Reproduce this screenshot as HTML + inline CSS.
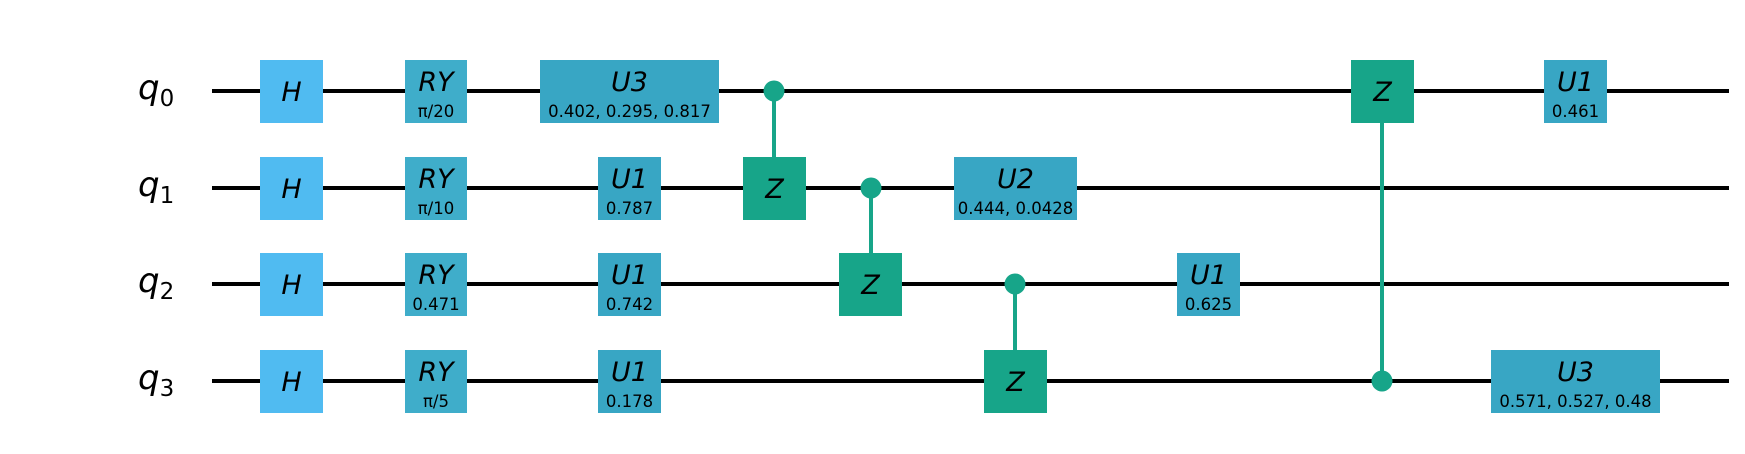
<!DOCTYPE html>
<html><head><meta charset="utf-8"><style>
html,body{margin:0;padding:0;background:#fff;}
svg{display:block;}
text{font-family:"DejaVu Sans","Liberation Sans",sans-serif;fill:#000;}
.g{font-style:italic;font-size:27px;}
.p{font-size:16.5px;}
</style></head><body>
<svg width="1745" height="454" viewBox="0 0 1745 454" xmlns="http://www.w3.org/2000/svg">
<g stroke="#000" stroke-width="4">
<line x1="212" y1="91" x2="1729" y2="91"/>
<line x1="212" y1="188" x2="1729" y2="188"/>
<line x1="212" y1="284" x2="1729" y2="284"/>
<line x1="212" y1="381" x2="1729" y2="381"/>
</g>
<g font-style="italic" font-size="34">
<text x="138" y="99">q<tspan font-size="23" font-style="normal" dy="7">0</tspan></text>
<text x="138" y="196">q<tspan font-size="23" font-style="normal" dy="7">1</tspan></text>
<text x="138" y="292">q<tspan font-size="23" font-style="normal" dy="7">2</tspan></text>
<text x="138" y="389">q<tspan font-size="23" font-style="normal" dy="7">3</tspan></text>
</g>
<g stroke="#17a589" stroke-width="4">
<line x1="774" y1="91" x2="774" y2="157"/>
<line x1="871" y1="188" x2="871" y2="253"/>
<line x1="1015" y1="284" x2="1015" y2="350"/>
<line x1="1382" y1="122" x2="1382" y2="381"/>
</g>
<g fill="#17a589">
<circle cx="774" cy="91" r="10.5"/>
<circle cx="871" cy="188" r="10.5"/>
<circle cx="1015" cy="284" r="10.5"/>
<circle cx="1382" cy="381" r="10.5"/>
</g>
<g fill="#50bbf1">
<rect x="260" y="60" width="63" height="63"/>
<rect x="260" y="157" width="63" height="63"/>
<rect x="260" y="253" width="63" height="63"/>
<rect x="260" y="350" width="63" height="63"/>
</g>
<g class="g" text-anchor="middle">
<text x="291.5" y="101">H</text><text x="291.5" y="198">H</text><text x="291.5" y="294">H</text><text x="291.5" y="391">H</text>
</g>
<g fill="#3fadca">
<rect x="405" y="60" width="62" height="63"/>
<rect x="405" y="157" width="62" height="63"/>
<rect x="405" y="253" width="62" height="63"/>
<rect x="405" y="350" width="62" height="63"/>
</g>
<g fill="#38a6c4">
<rect x="540" y="60" width="179" height="63"/>
<rect x="598" y="157" width="63" height="63"/>
<rect x="598" y="253" width="63" height="63"/>
<rect x="598" y="350" width="63" height="63"/>
<rect x="954" y="157" width="123" height="63"/>
<rect x="1177" y="253" width="63" height="63"/>
<rect x="1544" y="60" width="63" height="63"/>
<rect x="1491" y="350" width="169" height="63"/>
</g>
<g fill="#17a589">
<rect x="743" y="157" width="63" height="63"/>
<rect x="839" y="253" width="63" height="63"/>
<rect x="984" y="350" width="63" height="63"/>
<rect x="1351" y="60" width="63" height="63"/>
</g>
<g class="g" text-anchor="middle">
<text x="774.5" y="198">Z</text><text x="870.5" y="294">Z</text><text x="1015.5" y="391">Z</text><text x="1382.5" y="101">Z</text>
</g>
<g text-anchor="middle">
<text class="g" x="436" y="91">RY</text><text class="p" x="436" y="117">π/20</text>
<text class="g" x="436" y="188">RY</text><text class="p" x="436" y="214">π/10</text>
<text class="g" x="436" y="284">RY</text><text class="p" x="436" y="310">0.471</text>
<text class="g" x="436" y="381">RY</text><text class="p" x="436" y="407">π/5</text>
<text class="g" x="629.5" y="91">U3</text><text class="p" x="629.5" y="117">0.402, 0.295, 0.817</text>
<text class="g" x="629.5" y="188">U1</text><text class="p" x="629.5" y="214">0.787</text>
<text class="g" x="629.5" y="284">U1</text><text class="p" x="629.5" y="310">0.742</text>
<text class="g" x="629.5" y="381">U1</text><text class="p" x="629.5" y="407">0.178</text>
<text class="g" x="1015.5" y="188">U2</text><text class="p" x="1015.5" y="214">0.444, 0.0428</text>
<text class="g" x="1208.5" y="284">U1</text><text class="p" x="1208.5" y="310">0.625</text>
<text class="g" x="1575.5" y="91">U1</text><text class="p" x="1575.5" y="117">0.461</text>
<text class="g" x="1575.5" y="381">U3</text><text class="p" x="1575.5" y="407">0.571, 0.527, 0.48</text>
</g>
</svg>
</body></html>
